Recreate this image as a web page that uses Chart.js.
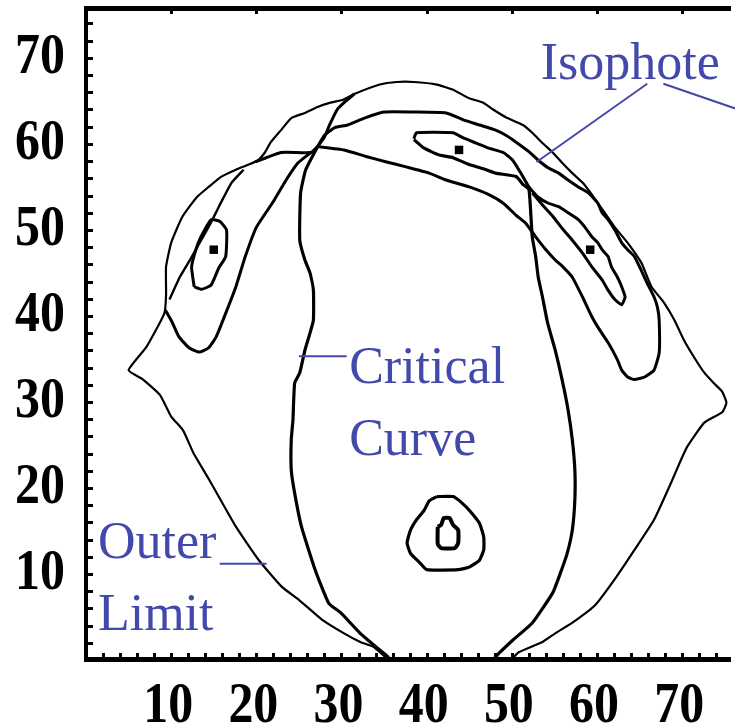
<!DOCTYPE html>
<html>
<head>
<meta charset="utf-8">
<script src="https://cdn.jsdelivr.net/npm/chart.js@4.4.1/dist/chart.umd.min.js"></script>
<style>
  html, body { margin: 0; padding: 0; background: #fff; }
  canvas { display: block; }
</style>
</head>
<body>
<canvas id="lensChart" width="735" height="728"></canvas>
<script>
// Contour data in axis units [x, y]
const outerLimit = [
  [35.3,0.2],[33.8,1.5],[32.2,2.1],[30.3,3.1],[27.7,4.7],[25.0,7.0],[23.0,8.5],[20.3,11.6],
  [17.6,15.5],[14.5,20.9],[12.6,24.1],[11.4,26.7],[10.0,28.3],[8.7,30.8],[6.7,32.6],[5.0,33.7],
  [7.1,36.4],[9.2,40.3],[9.4,42.4],[9.4,45.7],[10.0,48.5],[11.3,51.5],[13.0,53.8],[14.4,55.0],
  [15.9,56.2],[17.6,57.0],[19.1,57.6],[20.2,58.1],[21.0,59.0],[21.7,60.2],[22.9,61.6],[24.1,63.0],
  [25.7,63.6],[27.2,64.3],[28.7,64.8],[30.1,65.1],[31.5,65.8],[34.5,66.9],[36.5,67.2],[38.5,67.2],
  [41.2,66.9],[43.1,66.3],[45.0,65.3],[46.6,64.8],[47.8,64.0],[49.3,63.1],[51.3,62.2],[52.4,61.3],
  [53.6,60.1],[54.8,59.0],[55.9,57.8],[57.1,56.6],[58.3,55.5],[59.4,54.1],[60.9,52.0],[62.1,50.3],
  [63.6,48.5],[65.2,46.2],[66.4,43.4],[67.9,41.5],[69.1,39.5],[70.2,37.2],[71.4,35.2],[72.6,33.4],
  [73.7,32.2],[74.7,31.2],[75.2,29.9],[74.7,28.8],[72.6,27.6],[70.6,24.8],[69.7,22.9],[68.7,20.6],
  [66.7,16.3],[64.4,12.8],[62.3,9.7],[59.8,6.4],[57.2,4.4],[55.1,3.1],[53.6,2.1],[50.8,0.9],[49.9,0.0]
];
const criticalCurve = [
  [27.2,59.7],[25.8,57.0],[25.2,54.3],[25.1,48.8],[25.7,46.5],[26.3,45.0],[26.7,43.0],[26.7,39.5],
  [26.3,38.0],[25.7,36.0],[25.1,33.4],[24.5,32.2],[24.3,27.9],[24.1,25.6],[24.1,22.1],[24.5,19.4],
  [25.3,15.5],[26.9,10.5],[28.5,6.6],[29.9,5.5],[32.2,3.1],[34.2,1.4],[35.3,0.5],[36.3,-0.5],
  [47.2,-0.5],[48.5,0.8],[50.1,2.3],[52.4,4.3],[54.8,7.8],[55.7,10.1],[56.5,12.4],[57.1,15.1],
  [57.4,18.6],[57.4,22.1],[57.1,25.6],[56.6,29.1],[55.9,32.6],[55.1,36.0],[54.2,39.2],[53.6,42.2],
  [53.1,44.5],[52.8,46.9],[52.4,49.2],[52.2,52.3],[52.0,54.7],[51.3,55.3],[50.5,56.2],[48.1,56.6],
  [47.0,57.0],[45.0,57.6],[43.1,58.4],[41.5,58.7],[39.7,59.5],[38.5,60.5]
];
const isophoteBanana = [
  [27.2,59.7],[30.3,59.3],[33.0,58.5],[35.3,57.9],[37.7,57.3],[40.3,56.6],[42.3,55.8],[45.0,55.0],
  [47.3,54.1],[49.0,53.1],[50.5,51.7],[51.6,50.8],[52.8,49.2],[54.0,47.7],[55.1,46.5],[56.0,45.7],
  [57.1,44.5],[58.3,42.2],[59.4,39.9],[60.1,38.7],[61.3,36.9],[62.4,34.9],[62.9,33.7],[63.6,32.9],
  [64.4,32.6],[65.6,32.9],[66.7,33.7],[67.3,35.7],[67.3,39.5],[67.1,41.0],[66.7,42.2],[65.9,43.8],
  [65.2,45.3],[64.4,46.9],[63.6,47.7],[62.9,48.5],[62.1,50.0],[61.3,51.2],[60.6,52.0],[60.1,53.1],
  [59.0,54.3],[57.8,55.0],[56.6,55.8],[55.5,56.6],[54.3,57.2],[53.1,58.1],[52.0,59.1],[50.5,60.2],
  [49.3,61.0],[48.1,61.6],[46.2,62.2],[44.3,62.8],[42.3,63.6],[38.5,63.7],[35.0,63.7],[32.7,63.0],
  [30.7,62.2],[29.2,61.9],[28.0,61.0],[27.2,59.7]
];
const leftLobe = [
  [26.4,59.0],[24.9,57.8],[23.5,55.8],[22.0,53.3],[20.0,50.3],[18.7,46.9],[17.6,43.4],[16.4,40.3],
  [15.3,37.6],[14.4,36.3],[13.3,35.8],[12.1,36.3],[10.9,37.6],[10.1,39.3],[9.3,40.7]
];
const leftLobeTop = [[19.9,57.9],[22.9,59.0],[26.4,59.0],[27.2,59.7]];
const saddleArc = [[27.2,59.7],[28.0,60.8],[28.6,62.2],[29.5,64.0],[30.3,64.8],[31.5,65.8]];
const leftMiddle = [
  [9.8,41.9],[11.0,44.5],[12.2,46.5],[13.4,48.6],[14.7,50.9],[15.6,52.7],[17.1,55.5],[18.5,57.0]
];
const leftInner = [
  [12.7,43.4],[12.4,45.7],[12.9,47.7],[13.5,49.2],[14.7,51.2],[15.7,51.0],[16.5,50.0],[16.4,46.9],
  [15.6,45.6],[14.7,43.6],[13.6,43.1],[12.7,43.4]
];
const innerArc = [
  [38.5,60.6],[38.8,61.3],[43.1,61.3],[44.3,60.7],[45.8,60.1],[47.3,59.5],[49.0,59.0],[50.1,58.1],
  [51.0,56.7],[52.0,55.0],[53.1,53.8],[54.3,53.1],[55.5,52.7],[56.6,52.0],[57.8,51.2],[58.6,50.3],
  [59.4,49.2],[60.1,48.5],[60.6,47.7],[61.3,46.9],[61.7,45.7],[62.4,44.5],[62.9,43.4],[63.3,42.2],
  [62.9,41.3],[62.1,41.9],[61.3,43.0],[60.6,44.2],[59.4,45.7],[58.3,47.3],[57.1,48.8],[55.9,50.2],
  [54.8,51.6],[53.6,52.9],[52.4,54.3]
];
const counterImageOuter = [
  [41.2,19.0],[43.1,19.0],[44.1,18.3],[45.1,17.3],[46.2,15.9],[46.7,14.3],[46.7,12.8],[46.2,11.6],
  [45.0,10.8],[43.7,10.5],[40.0,10.5],[39.2,11.3],[38.1,12.4],[37.7,13.6],[38.1,15.1],[38.8,16.3],
  [39.7,17.4],[40.3,18.5],[41.2,19.0]
];
const counterImageInner = [
  [41.3,15.5],[41.3,13.5],[41.7,13.0],[43.3,13.0],[43.7,13.6],[43.7,15.1],[43.1,15.7],[42.7,16.5],
  [42.0,16.5],[41.7,15.7],[41.3,15.5]
];
const peakDots = [[15.0,47.7],[43.8,59.3],[59.2,47.7]];

// Axis range and tick labels
const xRange = [0, 75.5];
const yRange = [0, 75.8];
const xTickLabels = [10, 20, 30, 40, 50, 60, 70];
const yTickLabels = [10, 20, 30, 40, 50, 60, 70];

// Annotations: text lines with anchor (axis units), pointer segments
const noteTexts = ['Isophote', 'Critical', 'Curve', 'Outer', 'Limit'];
const noteAnchors = [[53.4,67.6],[30.9,32.2],[30.9,23.8],[1.4,11.9],[1.4,3.5]];
const notePointers = [
  [[65.9,67.0],[52.9,57.9]],
  [[67.8,67.0],[76.6,64.0]],
  [[25.0,35.3],[30.6,35.3]],
  [[15.7,11.2],[21.2,11.2]]
];

const noteColor = '#4349ab';
const toXY = arr => arr.map(p => ({ x: p[0], y: p[1] }));

function curve(data, width) {
    return {
        data: toXY(data),
        showLine: true,
        borderColor: '#000',
        borderWidth: width,
        pointRadius: 0,
        tension: 0.15,
        fill: false
    };
}

// Frame, ticks, tick labels and blue annotations
const framePlugin = {
    id: 'frame',
    afterDatasetsDraw(chart) {
        const { ctx, chartArea: a, scales: { x, y } } = chart;
        ctx.save();
        ctx.fillStyle = '#000';
        // axis lines
        ctx.fillRect(a.left - 2, a.top - 2, 4, a.bottom - a.top + 4);
        ctx.fillRect(a.left - 2, a.top - 2, a.right - a.left + 4, 5);
        ctx.fillRect(a.left - 2, a.bottom - 3, a.right - a.left + 4, 5);
        // minor ticks every 2 units
        for (let v = 2; v < yRange[1]; v += 2) {
            const py = Math.round(y.getPixelForValue(v));
            ctx.fillRect(a.left + 2, py - 1, 5, 3);
        }
        for (let v = 2; v < xRange[1]; v += 2) {
            const px = Math.round(x.getPixelForValue(v));
            ctx.fillRect(px - 1, a.bottom - 7, 3, 5);
        }
        xTickLabels.forEach(v => {
            const px = Math.round(x.getPixelForValue(v));
            ctx.fillRect(px - 1, a.top + 2, 3, 4);
        });
        // tick labels, tall bold digits
        ctx.font = 'bold 58px "Liberation Serif"';
        ctx.textBaseline = 'alphabetic';
        xTickLabels.forEach(v => {
            const px = x.getPixelForValue(v) - 3;
            ctx.save();
            ctx.translate(px, 722);
            ctx.scale(0.86, 1);
            ctx.textAlign = 'center';
            ctx.fillText(String(v), 0, 0);
            ctx.restore();
        });
        yTickLabels.forEach(v => {
            const py = y.getPixelForValue(v) - 5;
            ctx.save();
            ctx.translate(65, py + 20);
            ctx.scale(0.86, 1);
            ctx.textAlign = 'right';
            ctx.fillText(String(v), 0, 0);
            ctx.restore();
        });
        // annotations
        ctx.fillStyle = noteColor;
        ctx.strokeStyle = noteColor;
        ctx.lineWidth = 2;
        ctx.font = '52px "Liberation Serif"';
        ctx.textAlign = 'left';
        noteTexts.forEach((t, i) => {
            const [nx, ny] = noteAnchors[i];
            ctx.fillText(t, x.getPixelForValue(nx), y.getPixelForValue(ny));
        });
        notePointers.forEach(seg => {
            ctx.beginPath();
            ctx.moveTo(x.getPixelForValue(seg[0][0]), y.getPixelForValue(seg[0][1]));
            ctx.lineTo(x.getPixelForValue(seg[1][0]), y.getPixelForValue(seg[1][1]));
            ctx.stroke();
        });
        ctx.restore();
    }
};

new Chart(document.getElementById('lensChart'), {
    type: 'scatter',
    data: {
        datasets: [
            curve(outerLimit, 2.2),
            curve(criticalCurve, 3.2),
            curve(isophoteBanana, 3),
            curve(leftLobe, 3),
            curve(leftLobeTop, 3),
            curve(saddleArc, 3),
            curve(leftMiddle, 2.4),
            curve(leftInner, 3),
            curve(innerArc, 3),
            curve(counterImageOuter, 3.2),
            curve(counterImageInner, 4),
            {
                data: toXY(peakDots),
                showLine: false,
                pointStyle: 'rect',
                pointRadius: 6,
                backgroundColor: '#000',
                borderWidth: 0
            }
        ]
    },
    options: {
        responsive: false,
        animation: false,
        layout: { padding: { left: 86, top: 8, right: 0, bottom: 68 } },
        plugins: { legend: { display: false }, tooltip: { enabled: false } },
        scales: {
            x: { type: 'linear', min: xRange[0], max: xRange[1], display: false },
            y: { type: 'linear', min: yRange[0], max: yRange[1], display: false }
        }
    },
    plugins: [framePlugin]
});
</script>
</body>
</html>
